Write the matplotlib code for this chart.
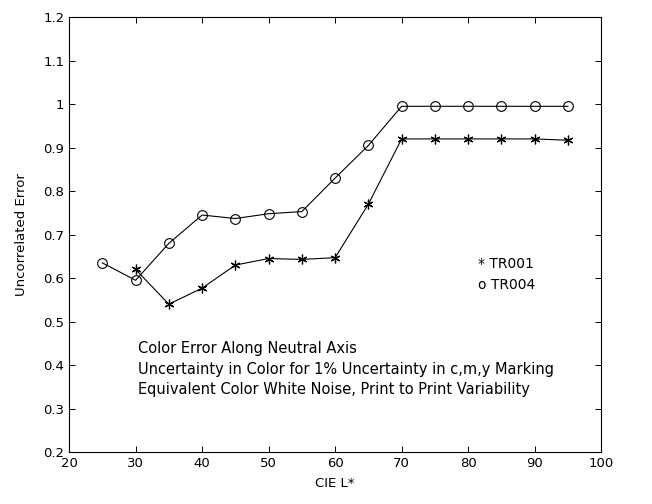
import matplotlib
matplotlib.use('Agg')
import matplotlib.pyplot as plt

plt.rcParams['font.family'] = ['DejaVu Sans']

# CIE L* values
l_star_tr004 = [25, 30, 35, 40, 45, 50, 55, 60, 65, 70, 75, 80, 85, 90, 95]
err_tr004 = [0.635, 0.595, 0.68, 0.745, 0.737, 0.748, 0.753, 0.83, 0.905,
             0.995, 0.995, 0.995, 0.995, 0.995, 0.995]

l_star_tr001 = [30, 35, 40, 45, 50, 55, 60, 65, 70, 75, 80, 85, 90, 95]
err_tr001 = [0.62, 0.54, 0.577, 0.63, 0.645, 0.643, 0.647, 0.77, 0.92,
             0.92, 0.92, 0.92, 0.92, 0.917]

x_ticks = [20, 30, 40, 50, 60, 70, 80, 90, 100]
y_ticks = [0.2, 0.3, 0.4, 0.5, 0.6, 0.7, 0.8, 0.9, 1.0, 1.1, 1.2]
y_tick_labels = ['0.2', '0.3', '0.4', '0.5', '0.6', '0.7', '0.8', '0.9', '1', '1.1', '1.2']

fig = plt.figure(figsize=(6.52, 5.04), dpi=100)
ax = fig.add_axes([0.106, 0.103, 0.816, 0.863])

ax.plot(l_star_tr001, err_tr001, color='black', linewidth=0.8,
        marker=(6, 2, 0), markersize=7, markeredgewidth=0.9)
ax.plot(l_star_tr004, err_tr004, color='black', linewidth=0.8,
        marker='o', markersize=7, markerfacecolor='none', markeredgewidth=0.8)

ax.set_xlim(20, 100)
ax.set_ylim(0.2, 1.2)
ax.set_xticks(x_ticks)
ax.set_yticks(y_ticks)
ax.set_yticklabels(y_tick_labels)
ax.tick_params(direction='in', top=True, right=True, labelsize=9.5, length=4, width=0.7)
for s in ax.spines.values():
    s.set_linewidth(0.8)

ax.set_xlabel('CIE L*', fontsize=9.5, labelpad=5)
ax.set_ylabel('Uncorrelated Error', fontsize=9.5, labelpad=11)

ax.text(81.5, 0.632, '* TR001', fontsize=10, va='center')
ax.text(81.5, 0.585, 'o TR004', fontsize=10, va='center')

ax.text(30.4, 0.439, 'Color Error Along Neutral Axis', fontsize=10.5, va='center')
ax.text(30.4, 0.391, 'Uncertainty in Color for 1% Uncertainty in c,m,y Marking', fontsize=10.5, va='center')
ax.text(30.4, 0.343, 'Equivalent Color White Noise, Print to Print Variability', fontsize=10.5, va='center')

fig.savefig('out.png', dpi=100)
